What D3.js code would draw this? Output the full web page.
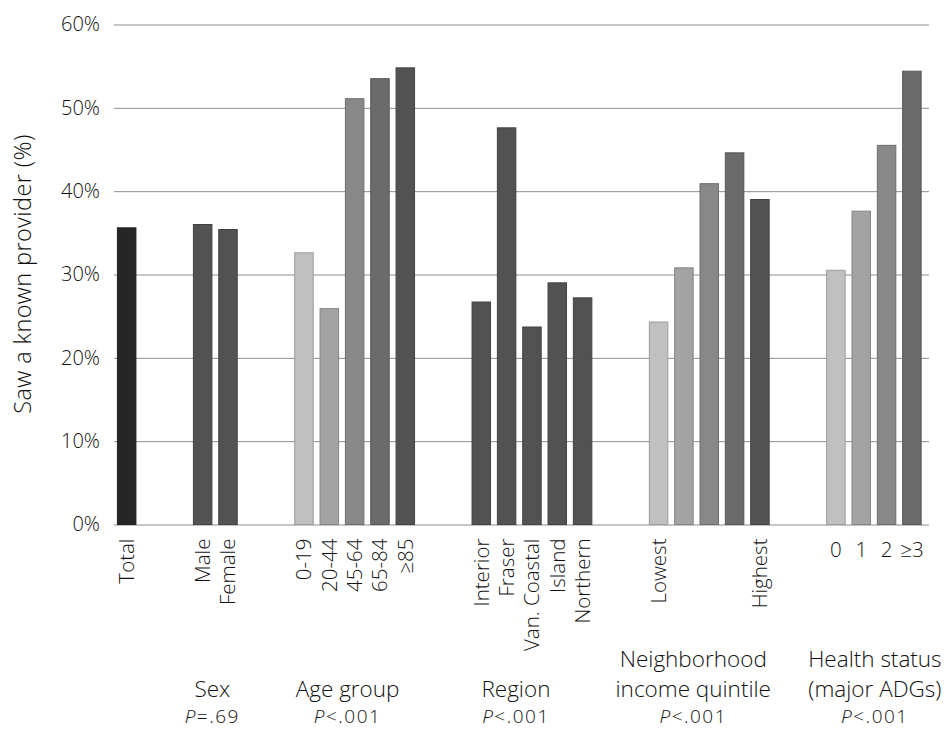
<!DOCTYPE html>
<html>
<head>
<meta charset="utf-8">
<script src="https://cdn.jsdelivr.net/npm/d3@7"></script>
<style>
  body { margin: 0; background: #fff; }
  text { font-family: "Open Sans", "DejaVu Sans", sans-serif; font-weight: 300; fill: #111; }
</style>
</head>
<body>
<svg id="chart" width="949" height="729"></svg>
<script>
// Share of patients who saw a known provider, by patient characteristic
const totalLabels = ["Total"];
const totalValues = [35.6];
const sexLabels = ["Male", "Female"];
const sexValues = [36.0, 35.4];
const ageLabels = ["0-19", "20-44", "45-64", "65-84", "≥85"];
const ageValues = [32.6, 25.9, 51.1, 53.5, 54.8];
const regionLabels = ["Interior", "Fraser", "Van. Coastal", "Island", "Northern"];
const regionValues = [26.7, 47.6, 23.7, 29.0, 27.2];
const incomeLabels = ["Lowest", "", "", "", "Highest"];
const incomeValues = [24.3, 30.8, 40.9, 44.6, 39.0];
const healthLabels = ["0", "1", "2", "≥3"];
const healthValues = [30.5, 37.6, 45.5, 54.4];

const groupTitles = [[], ["Sex"], ["Age group"], ["Region"],
  ["Neighborhood", "income quintile"], ["Health status", "(major ADGs)"]];
const groupPText = ["", "=.69", "<.001", "<.001", "<.001", "<.001"];
const yTicks = [0, 10, 20, 30, 40, 50, 60];

// Greyscale palette: light to dark
const shades = ["#c0c0c0", "#a3a3a3", "#888888", "#6b6b6b", "#525252"];
const totalShade = "#262626";
const titleNudge = [0, -3, -7, -16, -16, 1];

const groups = [
  { labels: totalLabels, values: totalValues, fill: () => totalShade },
  { labels: sexLabels, values: sexValues, fill: () => shades[4] },
  { labels: ageLabels, values: ageValues, fill: i => shades[i] },
  { labels: regionLabels, values: regionValues, fill: () => shades[4] },
  { labels: incomeLabels, values: incomeValues, fill: i => shades[i] },
  { labels: healthLabels, values: healthValues, fill: i => shades[i], flat: true }
];

// Category slots, with two empty slots between groups
const slots = [];
const bars = [];
groups.forEach((g, gi) => {
  if (gi > 0) { slots.push(`gap${gi}a`, `gap${gi}b`); }
  g.labels.forEach((lab, i) => {
    const key = `${gi}-${i}`;
    slots.push(key);
    bars.push({ key, gi, label: lab, value: g.values[i], fill: g.fill(i), flat: !!g.flat });
  });
});
const labelOf = new Map(bars.map(b => [b.key, b]));

const left = 114, gridRight = 929, step = 25.33;
const x = d3.scaleBand().domain(slots).range([left, left + slots.length * step]).padding(0);
const y = d3.scaleLinear().domain([0, 60]).range([524.5, 24.5]);

const svg = d3.select("#chart");

// Y axis with gridlines
const yAxis = svg.append("g")
  .attr("transform", `translate(${left},0)`)
  .call(d3.axisLeft(y).tickValues(yTicks).tickSize(-(gridRight - left)).tickPadding(14)
    .tickFormat(d => d + "%"));
yAxis.select(".domain").remove();
yAxis.attr("font-family", null).attr("font-size", null);
yAxis.selectAll(".tick line").attr("stroke", "#8e8e8e").attr("stroke-width", 1);
yAxis.selectAll(".tick text").attr("fill", null).style("font-size", "20px");

// Bars
const bw = x.bandwidth() * 0.73;
svg.append("g").selectAll("rect").data(bars).join("rect")
  .attr("x", d => x(d.key) + (x.bandwidth() - bw) / 2)
  .attr("y", d => y(d.value))
  .attr("width", bw)
  .attr("height", d => y(0) - y(d.value))
  .attr("fill", d => d.fill)
  .attr("stroke", d => d3.color(d.fill).darker(0.6))
  .attr("stroke-width", 1);

// Category labels
const xAxis = svg.append("g")
  .attr("transform", `translate(0,${y(0)})`)
  .call(d3.axisBottom(x).tickSize(0).tickFormat(k => labelOf.has(k) ? labelOf.get(k).label : ""));
xAxis.select(".domain").remove();
xAxis.attr("font-family", null).attr("font-size", null);
xAxis.selectAll(".tick text").each(function (k) {
  const t = d3.select(this).attr("fill", null).style("font-size", "20.5px");
  const b = labelOf.get(k);
  if (b && b.flat) {
    t.attr("y", 32).attr("dy", 0).attr("text-anchor", "middle");
  } else {
    t.attr("transform", "rotate(-90)").attr("x", -14).attr("y", 0)
      .attr("dy", "0.36em").attr("text-anchor", "end");
  }
});

// Group titles and P values
groups.forEach((g, gi) => {
  if (gi === 0) return;
  const keys = bars.filter(b => b.gi === gi).map(b => b.key);
  const cx = d3.mean(keys, k => x(k) + x.bandwidth() / 2) + titleNudge[gi];
  const lines = groupTitles[gi];
  lines.forEach((line, li) => {
    svg.append("text")
      .attr("x", cx)
      .attr("y", 697 - (lines.length - 1 - li) * 30)
      .attr("text-anchor", "middle")
      .style("font-size", "22.5px")
      .text(line);
  });
  const p = svg.append("text")
    .attr("x", cx)
    .attr("y", 723)
    .attr("text-anchor", "middle")
    .style("font-size", "19px")
    .style("letter-spacing", "1.5px");
  p.append("tspan").style("font-style", "italic").text("P");
  p.append("tspan").text(groupPText[gi]);
});

// Y axis title
svg.append("text")
  .attr("transform", "translate(31,274) rotate(-90)")
  .attr("text-anchor", "middle")
  .style("font-size", "23.5px")
  .style("letter-spacing", "0.4px")
  .text("Saw a known provider (%)");
</script>
</body>
</html>
